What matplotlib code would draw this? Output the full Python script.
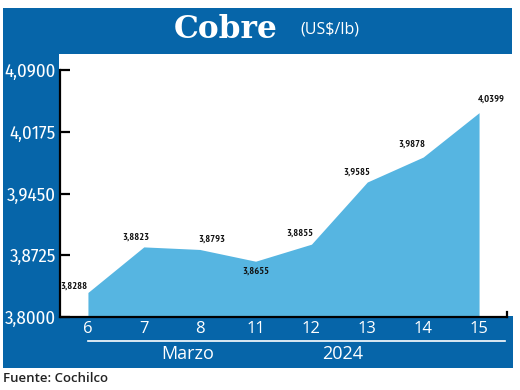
import matplotlib
matplotlib.use("Agg")
import matplotlib.pyplot as plt
from matplotlib.patches import Rectangle
from matplotlib.lines import Line2D

# data
days = ["6", "7", "8", "11", "12", "13", "14", "15"]
prices = [3.8288, 3.8823, 3.8793, 3.8655, 3.8855, 3.9585, 3.9878, 4.0399]
y_ticks = [3.8000, 3.8725, 3.9450, 4.0175, 4.0900]
# label offsets (pixels) relative to each point
label_dx = [0, -8, 12, 0, -12, -11, -11, 12]
label_dy = [6, 10, 10, -10, 11, 10, 13, 14]

W, H = 520, 390
BLUE = "#0665a9"
FILL = "#56b5e1"
SANS = ["Open Sans", "DejaVu Sans"]
COND = ["Fira Sans Condensed", "DejaVu Sans"]
NARROW = ["PT Sans Narrow", "DejaVu Sans"]


def fr(x, y, w, h):
    """pixel box (top-left origin) -> figure fraction (x0, y0, w, h)"""
    return (x / W, 1 - (y + h) / H, w / W, h / H)


fig = plt.figure(figsize=(W / 100, H / 100), dpi=100)
fig.patch.set_facecolor("white")

# blue frame: header, left strip, bottom band
for box in [(3, 8, 509, 46), (3, 53, 56, 315), (3, 316, 510, 52)]:
    x0, y0, w, h = fr(*box)
    fig.add_artist(Rectangle((x0, y0), w, h, transform=fig.transFigure,
                             facecolor=BLUE, edgecolor="none", zorder=0))

fig.text(226 / W, 1 - 29 / H, "Cobre", color="white", fontsize=22.5,
         fontweight="bold", family="DejaVu Serif", ha="center", va="center")
fig.text(330 / W, 1 - 30 / H, "(US$/lb)", color="white", fontsize=11.5,
         family=SANS, ha="center", va="center")

ax = fig.add_axes(fr(60, 70, 447, 247))
ax.set_facecolor("none")
x = list(range(len(days)))
ax.fill_between(x, prices, 3.80, color=FILL, lw=0, zorder=1)
ax.set_xlim(-0.5, 7.5)
ax.set_ylim(3.80, 4.09)

for i, (v, dx, dy) in enumerate(zip(prices, label_dx, label_dy)):
    ha = "right" if i == 0 else "center"
    ax.annotate(f"{v:.4f}".replace(".", ","), (i, v), xytext=(dx, dy),
                textcoords="offset pixels", ha=ha, va="center",
                fontsize=7.5, fontweight="bold", family=NARROW, color="#111111")

for s in ["top", "right"]:
    ax.spines[s].set_visible(False)
ax.spines["left"].set_linewidth(1.6)
ax.spines["bottom"].set_linewidth(1.6)

ax.set_yticks(y_ticks)
ax.set_yticklabels([f"{t:.4f}".replace(".", ",") for t in y_ticks],
                   color="white", fontsize=13.5, family=COND)
ax.tick_params(axis="y", direction="in", length=7, width=1.6, pad=3)
ax.set_xticks(x)
ax.set_xticklabels(days, color="white", fontsize=12, family=SANS)
ax.tick_params(axis="x", length=0, pad=3)

# small end tick on the right of the x axis
ax.plot([7.5, 7.5], [3.80, 3.806], color="black", lw=1.6, clip_on=False)

# white rule and month/year under the day labels
y_rule = 1 - 341 / H
fig.add_artist(Line2D([88 / W, 505 / W], [y_rule, y_rule], color="white",
                      lw=1.2, transform=fig.transFigure))
fig.text(188 / W, 1 - 354 / H, "Marzo", color="white", fontsize=13,
         family=SANS, ha="center", va="center")
fig.text(343 / W, 1 - 354 / H, "2024", color="white", fontsize=13,
         family=SANS, ha="center", va="center")

fig.text(3 / W, 1 - 379 / H, "Fuente: Cochilco", color="#222222", fontsize=9.5,
         family=SANS, fontweight="semibold", ha="left", va="center")

fig.savefig("out.png", dpi=100)
